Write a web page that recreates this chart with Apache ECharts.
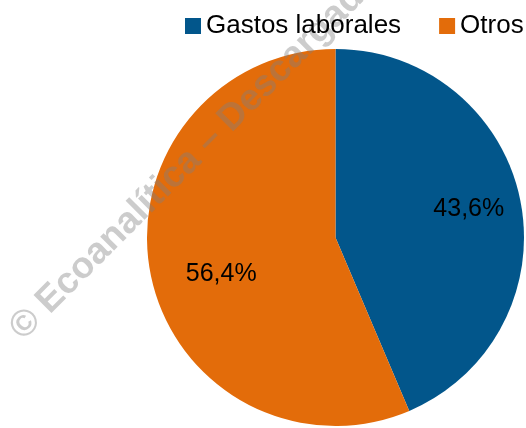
<!DOCTYPE html>
<html>
<head>
<meta charset="utf-8">
<script src="https://cdn.jsdelivr.net/npm/echarts@6/dist/echarts.min.js"></script>
<style>
  html, body { margin: 0; padding: 0; background: #fff; }
  #chart { width: 526px; height: 428px; }
</style>
</head>
<body>
<div id="chart"></div>
<script>
// Data
var categories = ['Gastos laborales', 'Otros'];
var shares = [43.6, 56.4];
var colors = ['#02568B', '#E36C0A'];

var chart = echarts.init(document.getElementById('chart'));

var pieData = categories.map(function (name, i) {
    return {
        name: name,
        value: shares[i],
        itemStyle: { color: colors[i] },
        // nudge labels to where the original sits
        label: { offset: i === 0 ? [38, -9] : [-19, 17] }
    };
});

var option = {
    animation: false,
    legend: {
        data: categories,
        top: 13,
        left: 185,
        padding: 0,
        itemWidth: 16,
        itemHeight: 16,
        itemGap: 38,
        icon: 'rect',
        z: 5,
        textStyle: {
            fontFamily: 'Liberation Sans',
            fontSize: 26,
            color: '#000'
        }
    },
    graphic: [
        {
            // watermark
            type: 'text',
            x: 16,
            y: 334,
            rotation: Math.PI / 4,
            z: 3,
            silent: true,
            style: {
                text: '© Ecoanalítica – Descargado',
                fontFamily: 'Liberation Sans',
                fontWeight: 'bold',
                fontSize: 37,
                fill: 'rgba(128,128,128,0.4)',
                textAlign: 'left',
                textVerticalAlign: 'middle'
            }
        }
    ],
    series: [
        {
            type: 'pie',
            center: [335.5, 237.5],
            radius: 188.5,
            startAngle: 90,
            clockwise: true,
            avoidLabelOverlap: false,
            label: {
                show: true,
                position: 'inside',
                formatter: function (p) {
                    return p.value.toFixed(1).replace('.', ',') + '%';
                },
                fontFamily: 'Liberation Sans',
                fontSize: 25,
                color: '#000'
            },
            labelLine: { show: false },
            emphasis: { disabled: true },
            data: pieData
        }
    ]
};

chart.setOption(option);
</script>
</body>
</html>
